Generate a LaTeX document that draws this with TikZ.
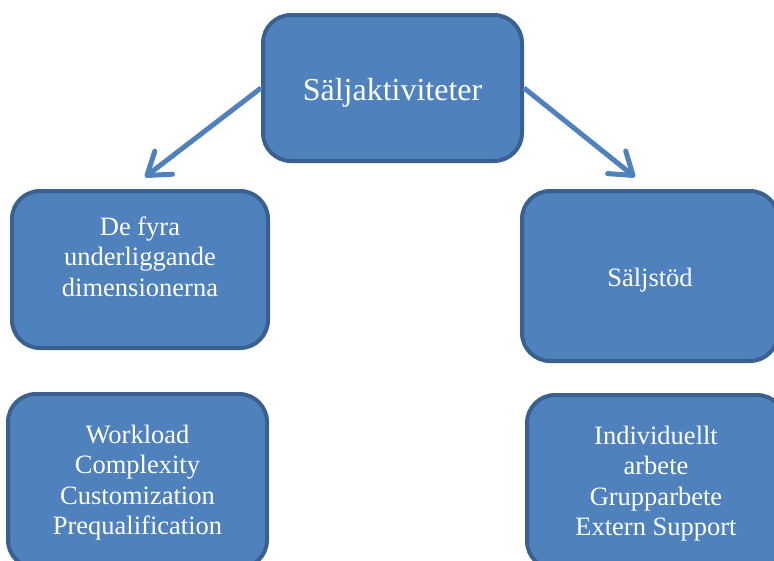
\documentclass[tikz,border=0pt]{standalone}
\usepackage{fontspec}
\setmainfont{Liberation Serif}
\usetikzlibrary{arrows.meta}
\definecolor{boxfill}{HTML}{4F81BD}
\definecolor{boxline}{HTML}{3A6090}
\definecolor{arrowblue}{HTML}{4F81BD}
% centred lines, moved vertically inside the box without changing its size
\newcommand{\liftlines}[2]{\raisebox{#1}[\height][\depth]{\begin{tabular}{@{}c@{}}#2\end{tabular}}}
\begin{document}
\begin{tikzpicture}[x=1pt,y=-1pt,
  box/.style={draw=boxline, fill=boxfill, line width=4pt, rounded corners=28pt,
    text=white, align=center, inner sep=0pt,
    font=\fontsize{26.5}{30.5}\selectfont},
  link/.style={draw=arrowblue, line width=5pt,
    -{Straight Barb[length=21pt,width=29pt,line cap=round,line join=round]}}]
  \useasboundingbox (0,0) rectangle (774,560);
  % root
  \node[box, minimum width=259pt, minimum height=146pt,
        font=\fontsize{32}{36}\selectfont] (root) at (392.5,88)
    {\liftlines{-5pt}{Säljaktiviteter}};
  % second row
  \node[box, minimum width=256pt, minimum height=157pt] (dims) at (140,269.5)
    {\liftlines{10pt}{De fyra\\underliggande\\dimensionerna}};
  \node[box, minimum width=256pt, minimum height=170pt] (stod) at (650,276)
    {\liftlines{-4pt}{Säljstöd}};
  % third row
  \node[box, minimum width=259pt, minimum height=174pt] (dimlist) at (137.5,481)
    {\liftlines{-2pt}{Workload\\Complexity\\Customization\\Prequalification}};
  \node[box, minimum width=258pt, minimum height=174pt] (stodlist) at (656,482)
    {\liftlines{-2pt}{Individuellt\\arbete\\Grupparbete\\Extern Support}};
  % arrow tips
  \coordinate (tipL) at (145,177);
  \coordinate (tipR) at (635,177);
  \draw[link] (root.west) -- (tipL);
  \draw[link] (root.east) -- (tipR);
\end{tikzpicture}
\end{document}
